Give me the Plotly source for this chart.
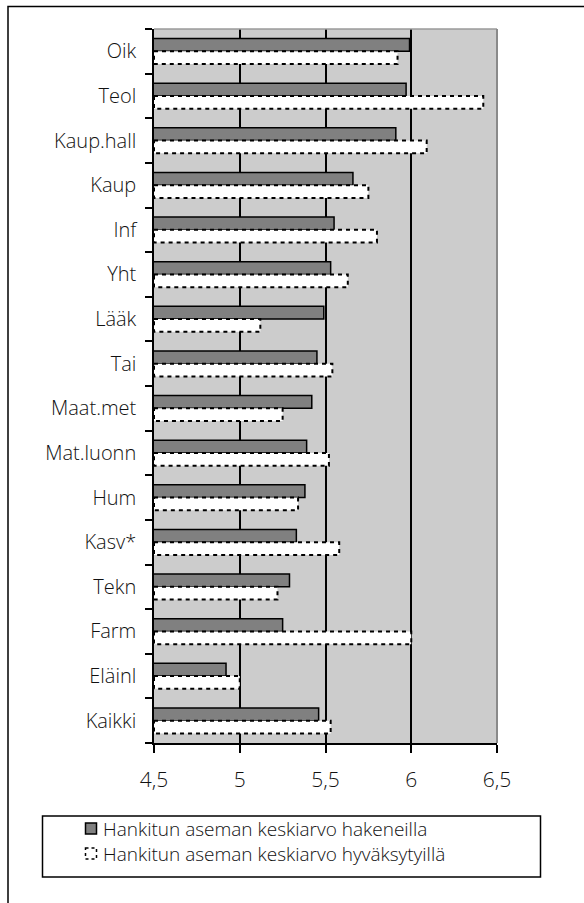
import plotly.graph_objects as go

# Faculty groups, top to bottom
categories = ["Oik", "Teol", "Kaup.hall", "Kaup", "Inf", "Yht", "Lääk", "Tai",
              "Maat.met", "Mat.luonn", "Hum", "Kasv*", "Tekn", "Farm", "Eläinl", "Kaikki"]
# Mean acquired position among applicants
applicants = [5.99, 5.97, 5.91, 5.66, 5.55, 5.53, 5.49, 5.45,
              5.42, 5.39, 5.38, 5.33, 5.29, 5.25, 4.92, 5.46]
# Mean acquired position among accepted
accepted = [5.92, 6.42, 6.09, 5.75, 5.80, 5.63, 5.12, 5.54,
            5.25, 5.52, 5.34, 5.58, 5.22, 6.00, 5.00, 5.53]
x_tick_values = [4.5, 5, 5.5, 6, 6.5]
x_tick_labels = ["4,5", "5", "5,5", "6", "6,5"]
legend_labels = ["Hankitun aseman keskiarvo hakeneilla",
                 "Hankitun aseman keskiarvo hyväksytyillä"]

FONT = "Open Sans"
TEXT_WEIGHT = 300
W, H = 584, 903
ML, MR, MT, MB = 154, 87, 29, 160
PW, PH = W - ML - MR, H - MT - MB
BAR_W = 0.285
X_MIN, X_MAX = x_tick_values[0], x_tick_values[-1]


def px_x(p):
    return (p - ML) / PW


def px_y(p):
    return (H - MB - p) / PH


positions = list(range(len(categories)))
boundaries = [i - 0.5 for i in range(len(categories) + 1)]

fig = go.Figure()

# Applicants: solid grey bars in the upper half of each band
fig.add_trace(go.Bar(
    y=positions, x=applicants, orientation="h",
    offset=-BAR_W, width=BAR_W,
    marker=dict(color="#808080", line=dict(color="black", width=1.5)),
    name=legend_labels[0], showlegend=False,
))

# Accepted: white bars with a dashed outline, drawn as closed outlines
xs, ys = [], []
for pos, val in zip(positions, accepted):
    xs += [X_MIN, val, val, X_MIN, X_MIN, None]
    ys += [pos, pos, pos + BAR_W, pos + BAR_W, pos, None]
fig.add_trace(go.Scatter(
    x=xs, y=ys, mode="lines", fill="toself", fillcolor="white",
    line=dict(color="black", width=2, dash="4px,4px"),
    name=legend_labels[1], showlegend=False, hoverinfo="skip",
))

shapes = [
    # plot frame, top and right
    dict(type="line", xref="paper", yref="paper", x0=0, x1=1, y0=1, y1=1,
         line=dict(color="#9a9a9a", width=1.5), layer="above"),
    dict(type="line", xref="paper", yref="paper", x0=1, x1=1, y0=0, y1=1,
         line=dict(color="#8a8a8a", width=2), layer="above"),
    # outer chart frame
    dict(type="rect", xref="paper", yref="paper",
         x0=px_x(8), x1=px_x(620), y0=px_y(6.5), y1=px_y(940),
         line=dict(color="black", width=1.5), layer="below"),
    # legend box
    dict(type="rect", xref="paper", yref="paper",
         x0=px_x(42.5), x1=px_x(540.5), y0=px_y(816), y1=px_y(877),
         line=dict(color="black", width=1.5), fillcolor="white"),
    # legend swatches
    dict(type="rect", xref="paper", yref="paper",
         x0=px_x(85.5), x1=px_x(96.5), y0=px_y(823), y1=px_y(834),
         line=dict(color="black", width=1.5), fillcolor="#808080"),
    dict(type="rect", xref="paper", yref="paper",
         x0=px_x(85.5), x1=px_x(96.5), y0=px_y(848), y1=px_y(859),
         line=dict(color="black", width=1.5, dash="3px,3px"), fillcolor="white"),
]

legend_font = dict(family=FONT, size=19, color="#111", weight=TEXT_WEIGHT)
annotations = [
    dict(text=legend_labels[0], xref="paper", yref="paper",
         x=px_x(101), y=px_y(828.5), xanchor="left", yanchor="middle",
         showarrow=False, font=legend_font),
    dict(text=legend_labels[1], xref="paper", yref="paper",
         x=px_x(101), y=px_y(854.5), xanchor="left", yanchor="middle",
         showarrow=False, font=legend_font),
]

fig.update_layout(
    width=W, height=H,
    margin=dict(l=ML, r=MR, t=MT, b=MB, pad=0),
    paper_bgcolor="white", plot_bgcolor="#cccccc",
    font=dict(family=FONT, size=20, color="#111", weight=TEXT_WEIGHT),
    barmode="overlay",
    shapes=shapes, annotations=annotations,
    xaxis=dict(
        range=[X_MIN, X_MAX], tickvals=x_tick_values, ticktext=x_tick_labels,
        ticks="outside", ticklen=8, tickwidth=1.5, tickcolor="black",
        showline=True, linecolor="black", linewidth=1.5,
        showgrid=True, gridcolor="black", gridwidth=1.5, zeroline=False,
        ticklabelstandoff=9,
        tickfont=dict(family=FONT, size=21, color="#111", weight=TEXT_WEIGHT),
    ),
    yaxis=dict(
        range=[len(categories) - 0.5, -0.5],
        tickvals=positions, ticktext=categories, ticks="",
        minor=dict(tickvals=boundaries, ticks="outside", ticklen=7,
                   tickwidth=1.5, tickcolor="black", showgrid=False),
        showline=True, linecolor="black", linewidth=1.5,
        showgrid=False, zeroline=False,
        ticklabelstandoff=12,
        tickfont=dict(family=FONT, size=20, color="#111", weight=TEXT_WEIGHT),
    ),
)

fig.write_html("out.html")
